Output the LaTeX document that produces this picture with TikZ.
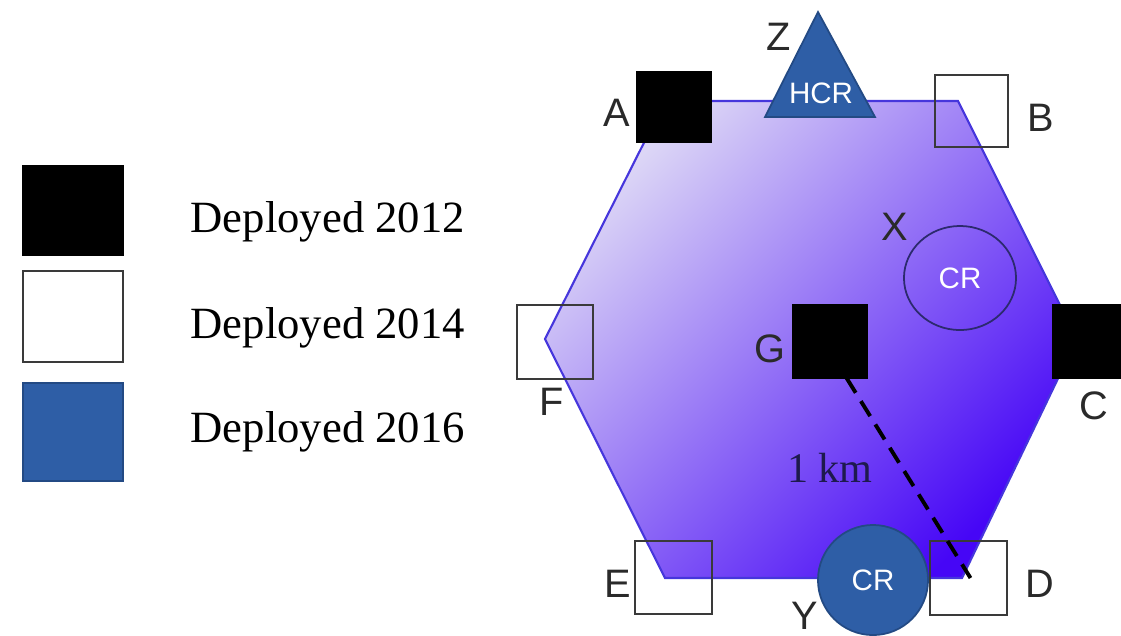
\documentclass[tikz,border=0pt]{standalone}
\usepackage{fontspec}
\setmainfont{Liberation Serif}
\newfontfamily\lab{Liberation Sans}
\usetikzlibrary{shapes.geometric}
\definecolor{hexborder}{HTML}{4636DC}
\definecolor{hexUL}{HTML}{DCD6F6}
\definecolor{hexMid}{HTML}{9078EF}
\definecolor{hexLR}{HTML}{4606F6}
\definecolor{depblue}{HTML}{2E5EA6}
\definecolor{depblueb}{HTML}{234A84}
\definecolor{labgray}{HTML}{2A2A2A}
\definecolor{outline}{HTML}{3A3A3A}
\definecolor{xring}{HTML}{2C2A6E}
\definecolor{kmtext}{HTML}{1E1A4E}
\begin{document}
\begin{tikzpicture}[x=0.01cm,y=-0.01cm,
  blacksq/.style={fill=black,draw=black,line width=0.3pt,inner sep=0pt},
  whitesq/.style={draw=outline,line width=0.5pt,inner sep=0pt},
  bluesq/.style={fill=depblue,draw=depblueb,line width=0.5pt,inner sep=0pt},
  lettr/.style={font=\lab\fontsize{11.3}{12}\selectfont,text=labgray,inner sep=0pt},
  legtext/.style={font=\fontsize{12.7}{14}\selectfont,text=black,inner sep=0pt,anchor=base west},
  crtext/.style={font=\lab\fontsize{8.4}{9}\selectfont,text=white,inner sep=0pt},
  dashline/.style={draw=black,line width=1.1pt,dash pattern=on 5pt off 2.8pt}
]
\useasboundingbox (0,0) rectangle (1121,635);
% hexagon cell
\shade[top color=hexUL,middle color=hexMid,bottom color=hexLR,shading angle=45]
  (665,101) -- (958,101) -- (1077,339) -- (962,578) -- (665,578) -- (545,339) -- cycle;
\draw[hexborder,line width=0.6pt]
  (665,101) -- (958,101) -- (1077,339) -- (962,578) -- (665,578) -- (545,339) -- cycle;
% legend
\node[blacksq,minimum width=1cm,minimum height=0.9cm] (L1) at (73,210.5) {};
\node[whitesq,fill=white,minimum width=1cm,minimum height=0.91cm] (L2) at (73,316.5) {};
\node[bluesq,minimum width=1cm,minimum height=0.98cm] (L3) at (73,432) {};
\node[legtext] (T1) at (190,232) {Deployed 2012};
\node[legtext] (T2) at (190,338) {Deployed 2014};
\node[legtext] (T3) at (190,442) {Deployed 2016};
% stations
\node[blacksq,minimum width=0.74cm,minimum height=0.70cm] (A) at (674,107) {};
\node[whitesq,minimum width=0.73cm,minimum height=0.72cm] (B) at (971.5,111) {};
\node[blacksq,minimum width=0.74cm,minimum height=0.73cm] (C) at (1090,341.5) {};
\node[whitesq,minimum width=0.77cm,minimum height=0.74cm] (D) at (968.5,578) {};
\node[whitesq,minimum width=0.77cm,minimum height=0.73cm] (E) at (673.5,577.5) {};
\node[whitesq,minimum width=0.76cm,minimum height=0.74cm] (F) at (555,342) {};
\node[blacksq,minimum width=0.74cm,minimum height=0.73cm] (G) at (830,341.5) {};
% distance
\draw[dashline] ([shift={(2,13)}]G.center) -- ([shift={(2,0)}]D.center);
\node[font=\fontsize{12}{13}\selectfont,text=kmtext,inner sep=0pt] (km) at (830,468) {1 km};
% HCR triangle
\draw[fill=depblue,draw=depblueb,line width=0.5pt] (818,12) -- (875,117) -- (765,117) -- cycle;
\node[crtext] (hcr) at (821,93) {HCR};
% CR X (ellipse outline)
\node[ellipse,draw=xring,line width=0.5pt,minimum width=1.12cm,minimum height=1.04cm,crtext] (X) at (960,278) {CR};
% CR Y (filled circle)
\node[circle,fill=depblue,draw=depblueb,line width=0.5pt,minimum size=1.1cm,crtext] (Y) at (873,580) {CR};
% labels
\node[lettr] (lA) at (617,113) {A};
\node[lettr] (lB) at (1041,118) {B};
\node[lettr] (lC) at (1094,406) {C};
\node[lettr] (lD) at (1040,584) {D};
\node[lettr] (lE) at (618,584) {E};
\node[lettr] (lF) at (552,402) {F};
\node[lettr] (lG) at (770,349) {G};
\node[lettr] (lX) at (895,227) {X};
\node[lettr] (lY) at (805,616) {Y};
\node[lettr] (lZ) at (779,37) {Z};
\end{tikzpicture}
\end{document}
